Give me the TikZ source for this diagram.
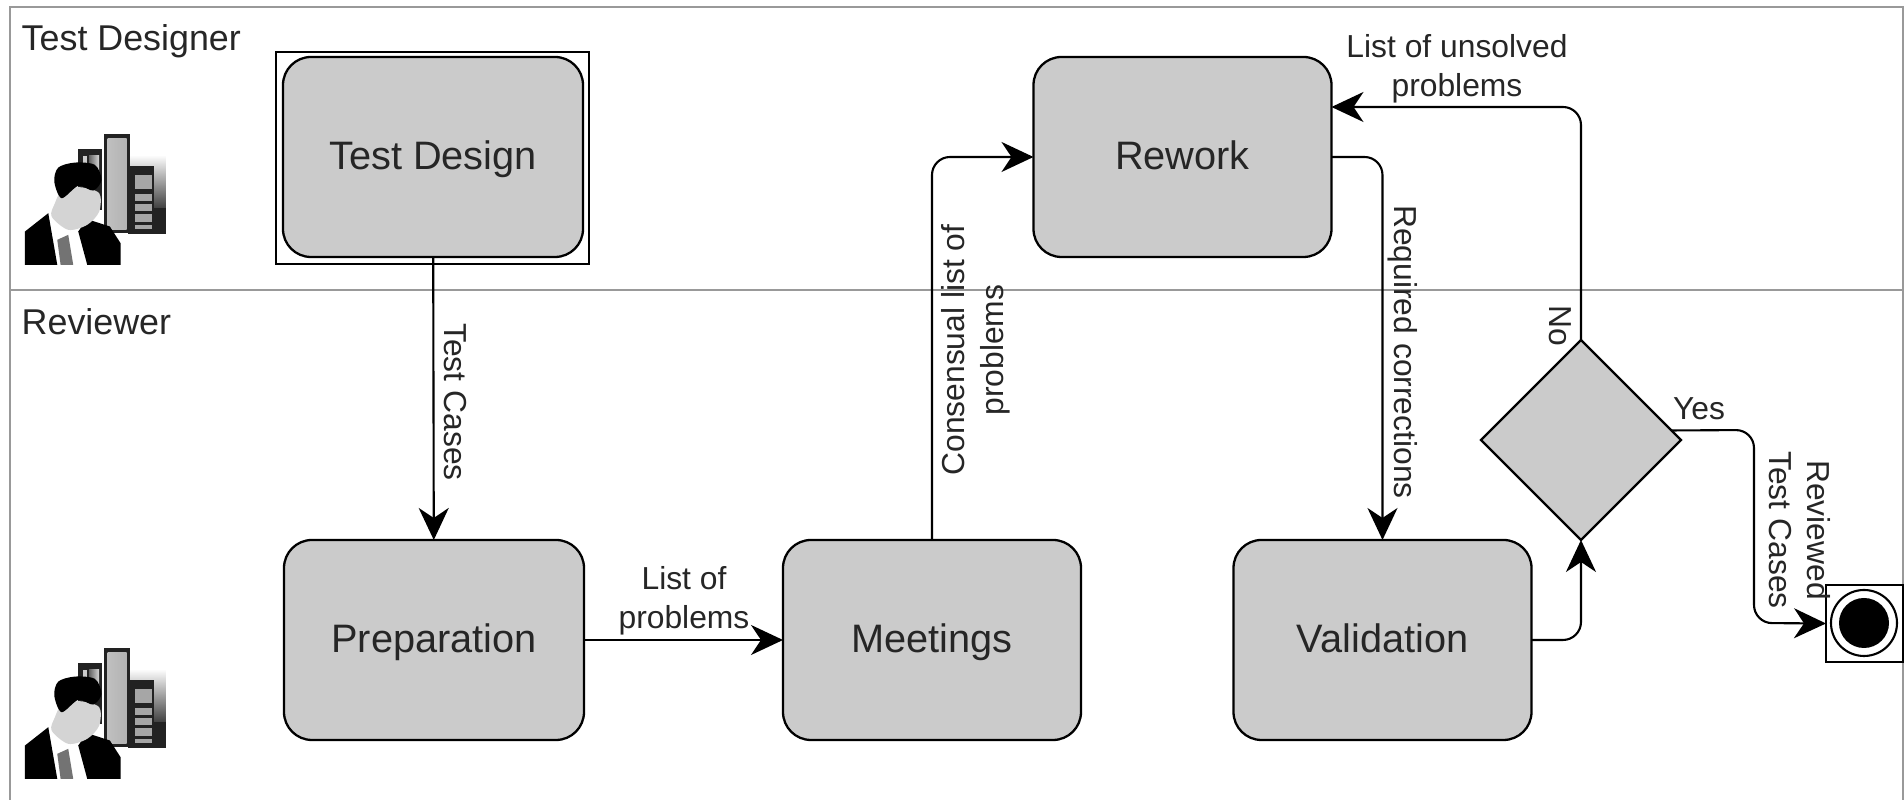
\documentclass[tikz,border=0pt]{standalone}
\usepackage{fontspec}
\setmainfont{Liberation Sans}
\usetikzlibrary{arrows.meta,shapes.geometric}
\definecolor{boxgray}{HTML}{CBCBCB}
\definecolor{lanegray}{HTML}{999999}
\definecolor{icondark}{HTML}{222222}

\begin{document}
\begin{tikzpicture}
[activity/.style={draw,line width=0.65pt,rounded corners=0.28cm,fill=boxgray,minimum width=2.98cm,minimum height=2cm,inner sep=0pt,outer sep=0pt,text height=8pt,text depth=0.6pt,text=black!85,font=\fontsize{11.3}{13}\selectfont},
	 decision/.style={diamond,draw,line width=0.65pt,fill=boxgray,minimum width=2cm,minimum height=2cm,inner sep=0pt,outer sep=0pt},
	 frame/.style={draw,line width=0.6pt,inner sep=0pt,outer sep=0pt},
	 flow/.style={-{Stealth[length=0.32cm,width=0.3cm,inset=0.1cm]},line width=0.6pt,rounded corners=0.18cm},
	 lane/.style={lanegray,line width=0.6pt},
	 lanelabel/.style={inner sep=0pt,text=black!85,font=\fontsize{10.2}{12}\selectfont},
	 flowlabel/.style={inner sep=0pt,align=center,text=black!85,font=\fontsize{9.05}{11}\selectfont},
	 staff/.pic={
		\begin{scope}[x=0.0333mm,y=-0.0333mm]
		\shade[top color=white,bottom color=black!75] (390,165) rectangle (498,325);
		\fill[icondark] (385,325) rectangle (498,402);
		\fill[icondark] (385,197) rectangle (462,402);
		\foreach \ya/\yb in {225/268,282/302,312/332,342/367,375/388}
			\fill[black!35] (405,\ya) rectangle (457,\yb);
		\fill[icondark] (235,148) rectangle (305,330);
		\fill[black!20] (248,168) rectangle (262,190);
		\shade[left color=black!60,right color=black!15] (268,168) rectangle (298,215);
		\fill[icondark] (313,103) rectangle (390,400);
		\shade[left color=black!25,middle color=black!5,right color=black!30] (323,115) rectangle (380,388);
		\fill[white] (140,345) -- (250,385) -- (262,495) -- (170,495) -- cycle;
		\fill[black] (75,495) -- (75,395) -- (145,340) -- (172,495) -- cycle;
		\fill[black] (262,495) -- (235,395) -- (262,358) -- (330,380) -- (362,430) -- (362,495) -- cycle;
		\fill[black!55] (172,420) -- (205,405) -- (220,495) -- (182,495) -- cycle;
		\fill[black!17] plot[smooth cycle] coordinates {(185,275) (240,262) (298,280) (298,335) (262,375) (205,390) (155,350) (165,310)};
		\fill[black] plot[smooth cycle] coordinates {(175,203) (225,188) (285,195) (305,240) (280,272) (235,258) (185,295) (163,245)};
		\end{scope}
	 }];
\useasboundingbox (0,0) rectangle (19.04,8);

\draw[lane] (0.1,0) -- (0.1,7.93) -- (19.03,7.93) -- (19.03,0);
\draw[lane] (0.1,5.1) -- (19.03,5.1);

\node[lanelabel,anchor=west] (designerlabel) at (0.21,7.59) {Test Designer};
\node[lanelabel,anchor=west] (reviewerlabel) at (0.21,4.78) {Reviewer};

\pic (designericon) at (0,7) {staff};
\pic (reviewericon) at (0,1.86) {staff};

\node[frame,minimum width=3.13cm,minimum height=2.12cm] (designframe) at (4.325,6.42) {};
\node[activity,minimum width=3cm] (testdesign) at (4.33,6.43) {Test Design};
\node[activity] (rework) at (11.825,6.43) {Rework};
\node[activity,minimum width=3cm] (preparation) at (4.34,1.6) {Preparation};
\node[activity] (meetings) at (9.32,1.6) {Meetings};
\node[activity] (validation) at (13.825,1.6) {Validation};
\node[decision] (check) at (15.81,3.6) {};

\node[frame,minimum size=0.77cm] (endframe) at (18.645,1.765) {};
\node[circle,draw,line width=0.6pt,minimum size=0.66cm,inner sep=0pt] (endring) at (18.64,1.77) {};
\node[circle,fill=black,minimum size=0.5cm,inner sep=0pt] (enddot) at (18.64,1.77) {};

\coordinate (reworkin) at ([yshift=0.5cm]rework.east);
\coordinate (reworkout) at (rework.east);
\coordinate (yesout) at (check.6);

\draw[flow] (testdesign) -- (preparation);
\draw[flow] (preparation) -- (meetings);
\draw[flow] (meetings.north) |- (rework.west);
\draw[flow] (reworkout) -| (validation.north);
\draw[flow] (validation.east) -| (check.south);
\draw[flow] (check.north) |- (reworkin);
\draw[flow] (yesout) -- (17.54,3.7) -- (17.54,1.77) -- (endframe.west);

\node[flowlabel,rotate=-90] (testcases) at (4.55,3.98) {Test Cases};
\node[flowlabel] (problems) at (6.84,1.99) {List of\\problems};
\node[flowlabel,rotate=90] (consensual) at (9.76,4.5) {Consensual list of\\problems};
\node[flowlabel,rotate=-90] (corrections) at (14.03,4.48) {Required corrections};
\node[flowlabel] (unsolved) at (14.57,7.31) {List of unsolved\\problems};
\node[flowlabel,rotate=-90] (nolabel) at (15.6,4.74) {No};
\node[flowlabel] (yeslabel) at (16.99,3.91) {Yes};
\node[flowlabel,rotate=-90] (reviewed) at (18,2.7) {Reviewed\\Test Cases};

\end{tikzpicture}
\end{document}
